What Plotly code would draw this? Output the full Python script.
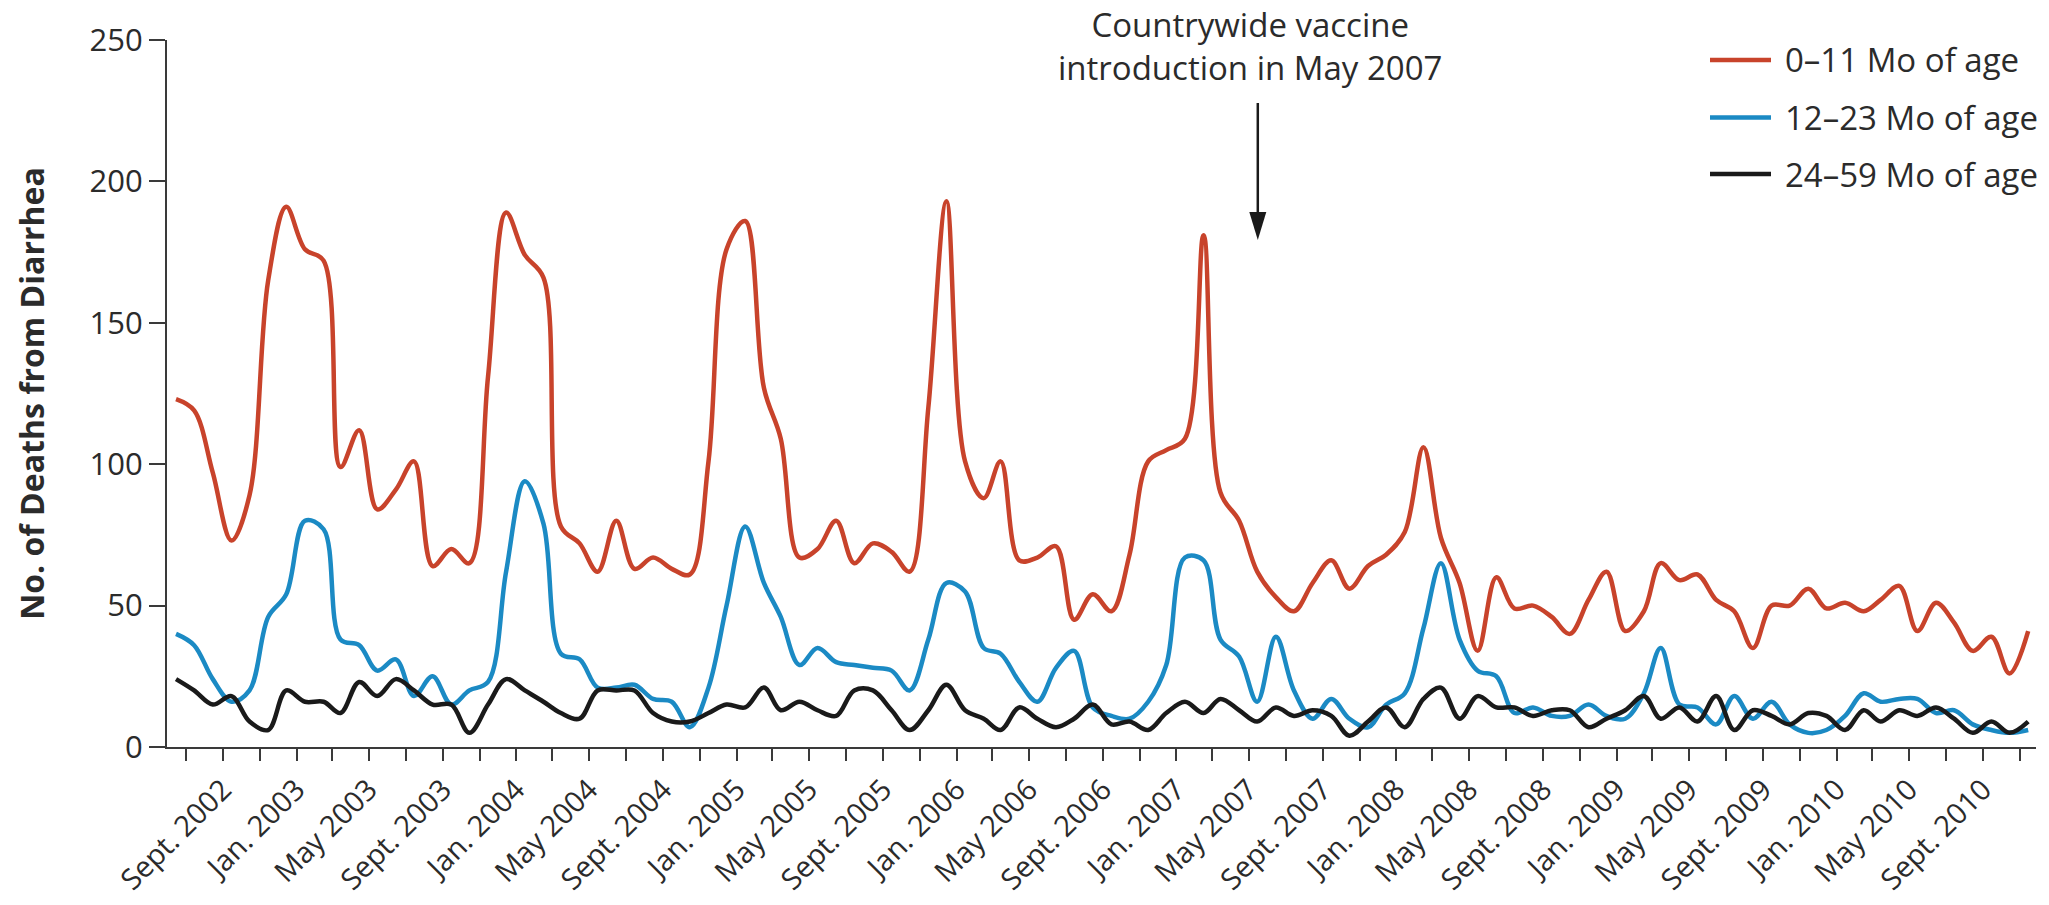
import pandas as pd
import plotly.graph_objects as go

# Monthly deaths from diarrhea, June 2002 - Nov. 2010 (one value per month)
months = pd.date_range("2002-06-01", "2010-11-01", freq="MS") + pd.Timedelta(days=14)

deaths_0_11 = [
    123, 119, 97, 73, 89, 165, 191,                      # Jun-Dec 2002
    176, 172, 99, 112, 84, 91, 101, 64, 70, 65, 131, 189,  # 2003
    174, 166, 78, 72, 62, 80, 63, 67, 63, 61, 101, 176,    # 2004
    186, 127, 109, 67, 70, 80, 65, 72, 69, 62, 120, 193,   # 2005
    101, 88, 101, 66, 67, 71, 45, 54, 48, 68, 101, 105,    # 2006
    109, 181, 90, 80, 62, 53, 48, 58, 66, 56, 64, 68,      # 2007
    76, 106, 74, 58, 34, 60, 49, 50, 46, 40, 52, 62,       # 2008
    41, 48, 65, 59, 61, 52, 48, 35, 50, 50, 56, 49,        # 2009
    51, 48, 52, 57, 41, 51, 44, 34, 39, 26, 41,            # Jan-Nov 2010
]
deaths_12_23 = [
    40, 36, 24, 16, 20, 46, 54,
    80, 77, 38, 36, 27, 31, 18, 25, 15, 20, 23, 62,
    94, 79, 33, 31, 21, 21, 22, 17, 16, 7, 21, 50,
    78, 58, 46, 29, 35, 30, 29, 28, 27, 20, 38, 58,
    55, 35, 33, 23, 16, 28, 34, 14, 11, 10, 16, 29,
    67, 66, 38, 32, 16, 39, 20, 10, 17, 10, 7, 15,
    19, 42, 65, 38, 27, 25, 12, 14, 11, 11, 15, 11,
    10, 19, 35, 15, 14, 8, 18, 10, 16, 8, 5, 6,
    11, 19, 16, 17, 17, 12, 13, 8, 6, 5, 6,
]
deaths_24_59 = [
    24, 20, 15, 18, 9, 6, 20,
    16, 16, 12, 23, 18, 24, 20, 15, 15, 5, 15, 24,
    20, 16, 12, 10, 20, 20, 20, 12, 9, 9, 12, 15,
    14, 21, 13, 16, 13, 11, 20, 20, 13, 6, 13, 22,
    13, 10, 6, 14, 10, 7, 10, 15, 8, 9, 6, 12,
    16, 12, 17, 13, 9, 14, 11, 13, 11, 4, 9, 14,
    7, 17, 21, 10, 18, 14, 14, 11, 13, 13, 7, 10,
    13, 18, 10, 14, 9, 18, 6, 13, 11, 8, 12, 11,
    6, 13, 9, 13, 11, 14, 10, 5, 9, 5, 9,
]

series_names = ["0\u201311 Mo of age", "12\u201323 Mo of age", "24\u201359 Mo of age"]
series_colors = ["#c8432b", "#1b8ac4", "#1a1a1a"]

# Axis ticks every two months; labels on Sept., Jan. and May
tick_dates = pd.date_range("2002-07-01", "2010-11-01", freq="2MS")
month_abbr = {1: "Jan.", 5: "May", 9: "Sept."}
tick_text = [f"{month_abbr[d.month]} {d.year}" if d.month in month_abbr else "" for d in tick_dates]

y_ticks = [0, 50, 100, 150, 200, 250]

# Page geometry (pixels)
W, H = 2049, 905
L, R, T, B = 167, 13, 40, 158
plot_w = W - L - R
plot_h = H - T - B


def px_x(px):
    return (px - L) / plot_w


def px_y(py):
    return (H - B - py) / plot_h


FONT = "Open Sans"
TXT = "#2b2b2b"
AX = "#3a3a3a"

fig = go.Figure()
for vals, name, col in zip([deaths_0_11, deaths_12_23, deaths_24_59], series_names, series_colors):
    fig.add_trace(go.Scatter(
        x=months, y=vals, name=name, mode="lines",
        line=dict(color=col, width=4.5, shape="spline", smoothing=1.0),
        showlegend=False,
    ))

fig.update_layout(
    width=W, height=H,
    margin=dict(l=L, r=R, t=T, b=B, pad=0),
    paper_bgcolor="white", plot_bgcolor="white",
    font=dict(family=FONT, color=TXT, size=31),
    xaxis=dict(
        range=["2002-05-31", "2010-11-28"],
        tickmode="array", tickvals=tick_dates, ticktext=tick_text,
        tickangle=-45, ticks="outside", ticklen=12, tickwidth=2, tickcolor=AX,
        showline=True, linecolor=AX, linewidth=2,
        showgrid=False, zeroline=False, automargin=False,
        tickfont=dict(size=29, color=TXT),
    ),
    yaxis=dict(
        range=[0, 250],
        tickmode="array", tickvals=y_ticks,
        ticks="outside", ticklen=16, tickwidth=2, tickcolor=AX,
        showline=True, linecolor=AX, linewidth=2,
        showgrid=False, zeroline=False, automargin=False,
        tickfont=dict(size=31, color=TXT),
        title=dict(text="<b>No. of Deaths from Diarrhea</b>", font=dict(size=32, color=TXT), standoff=35),
    ),
)

# Vaccine introduction marker
arrow_x = "2007-05-16"
fig.add_shape(type="line", xref="x", yref="paper", x0=arrow_x, x1=arrow_x,
              y0=px_y(103), y1=px_y(215), line=dict(color="#1a1a1a", width=2.5))
fig.add_shape(type="path", xref="x", yref="paper", xsizemode="pixel", ysizemode="pixel",
              xanchor=arrow_x, yanchor=px_y(240),
              path="M-8.5,28 L8.5,28 L0,0 Z", fillcolor="#1a1a1a", line=dict(width=0))
fig.add_annotation(xref="paper", yref="paper", x=px_x(1250), y=px_y(0),
                   xanchor="center", yanchor="top", showarrow=False, align="center",
                   text="Countrywide vaccine<br>introduction in May 2007",
                   font=dict(size=33, color=TXT))

# Legend
legend_rows = [60, 117.5, 174]
for row_y, name, col in zip(legend_rows, series_names, series_colors):
    fig.add_shape(type="line", xref="paper", yref="paper",
                  x0=px_x(1710), x1=px_x(1771), y0=px_y(row_y), y1=px_y(row_y),
                  line=dict(color=col, width=4.5))
    fig.add_annotation(xref="paper", yref="paper", x=px_x(1783), y=px_y(row_y),
                       xanchor="left", yanchor="middle", showarrow=False,
                       text=name, font=dict(size=33, color=TXT))

fig.write_html("out.html")
